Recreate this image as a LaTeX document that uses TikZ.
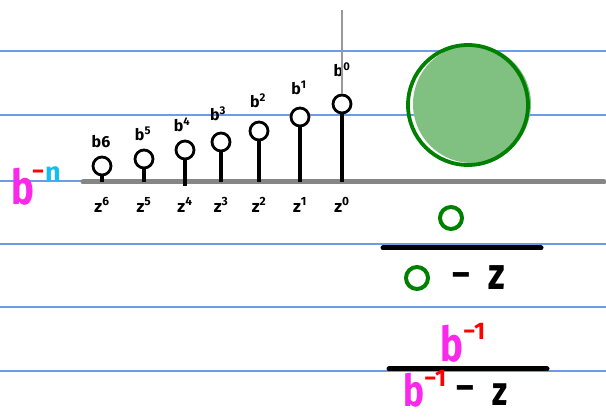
\documentclass[tikz,border=0pt]{standalone}
\usepackage{graphicx}
\usepackage{fontspec}
\setmainfont{Fira Sans}
\definecolor{rulec}{RGB}{110,155,230}
\definecolor{mag}{RGB}{250,40,235}
\definecolor{gdark}{RGB}{0,128,0}
\definecolor{glight}{RGB}{128,192,128}
\definecolor{ncyan}{RGB}{20,190,240}
\newcommand{\narrow}[1]{\scalebox{0.8}[1]{#1}}
\begin{document}
\begin{tikzpicture}[x=1pt,y=-1pt,
  rule/.style={draw=rulec, line width=1.1pt},
  stem/.style={line width=3.2pt, black},
  tip/.style={circle, draw=black, line width=2.8pt, fill=white, minimum size=18pt, inner sep=0pt},
  blab/.style={font=\bfseries\fontsize{16}{16}\selectfont, inner sep=0pt},
  zlab/.style={font=\bfseries\fontsize{17}{17}\selectfont, inner sep=0pt},
  gring/.style={circle, draw=gdark, line width=4pt, minimum size=22pt, inner sep=0pt},
  bar/.style={line width=5pt, line cap=round, black},
  bigb/.style={font=\bfseries\fontsize{48}{48}\selectfont, text=mag, inner sep=0pt, anchor=base},
  smb/.style={font=\bfseries\fontsize{44}{44}\selectfont, text=mag, inner sep=0pt, anchor=base},
  supr/.style={font=\bfseries\fontsize{24}{24}\selectfont, text=red, inner sep=0pt, anchor=base west},
  bigz/.style={font=\bfseries\fontsize{45}{45}\selectfont, inner sep=0pt, anchor=base},
  smz/.style={font=\bfseries\fontsize{41}{41}\selectfont, inner sep=0pt, anchor=base},
  minus/.style={font=\bfseries\fontsize{38}{38}\selectfont, inner sep=0pt, anchor=base}]
\useasboundingbox (0,0) rectangle (606,419);
% ruled lines
\foreach \yy/\nm in {51/r1,115/r2,181/r3,244/r4,307/r5,371/r6}{
  \coordinate (\nm a) at (0,\yy);
  \coordinate (\nm b) at (606,\yy);
  \draw[rule] (\nm a) -- (\nm b);
}
% axis
\coordinate (axa) at (83,182);
\coordinate (axb) at (604,182);
\draw[line width=5pt, gray!95, line cap=round] (axa) -- (axb);
% gray vertical line
\coordinate (gv) at (342,10);
% stems
\foreach \xx/\yy/\bot/\k/\bx/\by in {
  102/166/182/6/101/142,
  144/159/182/5/143/134,
  185/150/186/4/182/125,
  221/142/182/3/218/114,
  259/131/182/2/258/101,
  300/117/182/1/299/88,
  342/104/182/0/342/70}{
  \coordinate (s\k) at (\xx,\bot);
  \node[tip] (c\k) at (\xx,\yy) {};
  \draw[stem] (s\k) -- (c\k.south);
  \node[blab] (bl\k) at (\bx,\by) {\ifnum\k=6 b6\else b\textsuperscript{\k}\fi};
  \node[zlab] (zl\k) at (\xx,205) {z\textsuperscript{\k}};
}
\draw[gray!80, line width=1.6pt] (gv) -- (c0.north);
% b^{-n}
\node[bigb] (bn) at (23,205) {\narrow{b}};
\node[font=\bfseries\fontsize{24}{24}\selectfont, text=red, inner sep=0pt, anchor=base] (bnm) at (38,180) {−};
\node[font=\bfseries\fontsize{27}{27}\selectfont, text=ncyan, inner sep=0pt, anchor=base] (bnn) at (53,182) {n};
% big green circle
\node[circle, fill=glight, minimum size=118pt, inner sep=0pt] (gfill) at (472,104) {};
\node[circle, draw=gdark, line width=3.8pt, minimum size=120pt, inner sep=0pt] (gbig) at (468,105) {};
% fraction 1
\node[gring] (n1) at (451,218) {};
\coordinate (f1a) at (383,248);
\coordinate (f1b) at (541,248);
\draw[bar] (f1a) -- (f1b);
\node[gring] (d1) at (417,278) {};
\node[minus] (m1) at (461,288) {−};
\node[bigz] (z1) at (497,290) {\narrow{z}};
% fraction 2
\node[bigb] (n2) at (452,362) {\narrow{b}};
\node[supr] (n2e) at (463,340) {−1};
\coordinate (f2a) at (389,369);
\coordinate (f2b) at (547,369);
\draw[bar] (f2a) -- (f2b);
\node[smb] (d2) at (414,407) {\narrow{b}};
\node[supr] (d2e) at (424,387) {−1};
\node[minus] (m2) at (465,401) {−};
\node[smz] (z2) at (500,406) {\narrow{z}};
\end{tikzpicture}
\end{document}
